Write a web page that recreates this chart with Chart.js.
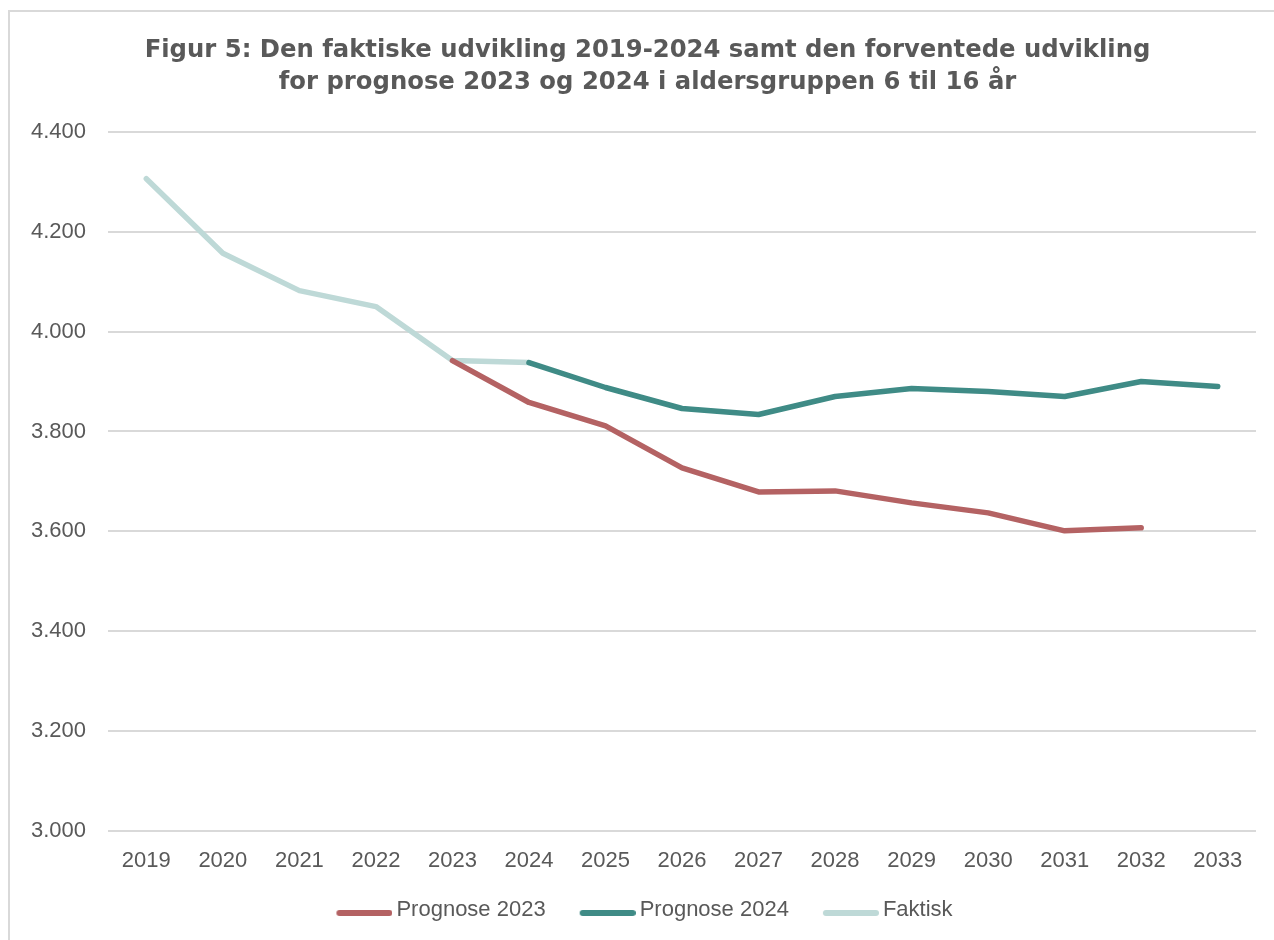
<!DOCTYPE html>
<html>
<head>
<meta charset="utf-8">
<script src="https://cdn.jsdelivr.net/npm/chart.js@4"></script>
<style>
html,body{margin:0;padding:0;background:#fff;}
#wrap{position:absolute;left:8px;top:10px;width:1270px;height:935px;border:2px solid #d9d9d9;box-sizing:border-box;}
#c{position:absolute;left:0;top:0;}
</style>
</head>
<body>
<div id="wrap"></div>
<canvas id="c" width="1274" height="940"></canvas>
<script>
const categories = ['2019','2020','2021','2022','2023','2024','2025','2026','2027','2028','2029','2030','2031','2032','2033'];
const prognose2023 = [null,null,null,null,3942,3858,3811,3727,3679,3681,3657,3637,3601,3607,null];
const prognose2024 = [null,null,null,null,null,3938,3888,3846,3834,3870,3886,3880,3870,3900,3890];
const faktisk = [4306,4157,4082,4050,3942,3938,null,null,null,null,null,null,null,null,null];
const yTicks = [3000,3200,3400,3600,3800,4000,4200,4400];
const titleLines = ['Figur 5: Den faktiske udvikling 2019-2024 samt den forventede udvikling','for prognose 2023 og 2024 i aldersgruppen 6 til 16 år'];

const textColor = '#595959';
const tickFont = '"Liberation Sans", Arial, sans-serif';

function swatch(color) {
  const cv = document.createElement('canvas');
  cv.width = 87; cv.height = 14;
  const g = cv.getContext('2d');
  g.strokeStyle = color; g.lineWidth = 6; g.lineCap = 'round';
  g.beginPath(); g.moveTo(34, 10); g.lineTo(84, 10); g.stroke();
  return cv;
}

const ds = (label, data, color) => ({
  label, data, borderColor: color, backgroundColor: color,
  borderWidth: 5.5, pointRadius: 0, pointHoverRadius: 0, pointStyle: swatch(color),
  borderCapStyle: 'round', borderJoinStyle: 'round', tension: 0, spanGaps: false
});

const titleShift = {
  id: 'titleShift',
  afterLayout(chart) {
    if (chart.titleBlock) { chart.titleBlock.left += 30; }
  }
};

new Chart(document.getElementById('c'), {
  type: 'line',
  data: {
    labels: categories,
    datasets: [
      ds('Prognose 2023', prognose2023, '#B46263'),
      ds('Prognose 2024', prognose2024, '#3F8B86'),
      ds('Faktisk', faktisk, '#BED9D7')
    ]
  },
  plugins: [titleShift],
  options: {
    responsive: false,
    animation: false,
    layout: { padding: { left: 9, right: 18, top: 10, bottom: 9 } },
    plugins: {
      title: {
        display: true, text: titleLines, color: textColor,
        font: { family: '"DejaVu Sans", sans-serif', size: 24.3, weight: 'bold', lineHeight: 1.3333 },
        padding: { top: 24, bottom: 33 }
      },
      legend: {
        position: 'bottom',
        labels: {
          usePointStyle: true, pointStyleWidth: 73, boxHeight: 22,
          color: textColor, padding: 10,
          font: { family: tickFont, size: 22 }
        }
      },
      tooltip: { enabled: false }
    },
    scales: {
      x: {
        offset: true,
        grid: { display: false, drawTicks: false },
        border: { display: false },
        ticks: { color: textColor, font: { family: tickFont, size: 22 }, padding: 17, maxRotation: 0 },
        afterFit: s => { s.height = 58; }
      },
      y: {
        min: yTicks[0], max: yTicks[yTicks.length - 1],
        afterBuildTicks: s => { s.ticks = yTicks.map(v => ({ value: v })); },
        grid: { color: '#d9d9d9', lineWidth: 2, drawTicks: false },
        border: { display: false },
        ticks: {
          color: textColor, font: { family: tickFont, size: 22 }, padding: 22,
          callback: v => String(v).replace(/\B(?=(\d{3})+(?!\d))/g, '.')
        }
      }
    }
  }
});
</script>
</body>
</html>
